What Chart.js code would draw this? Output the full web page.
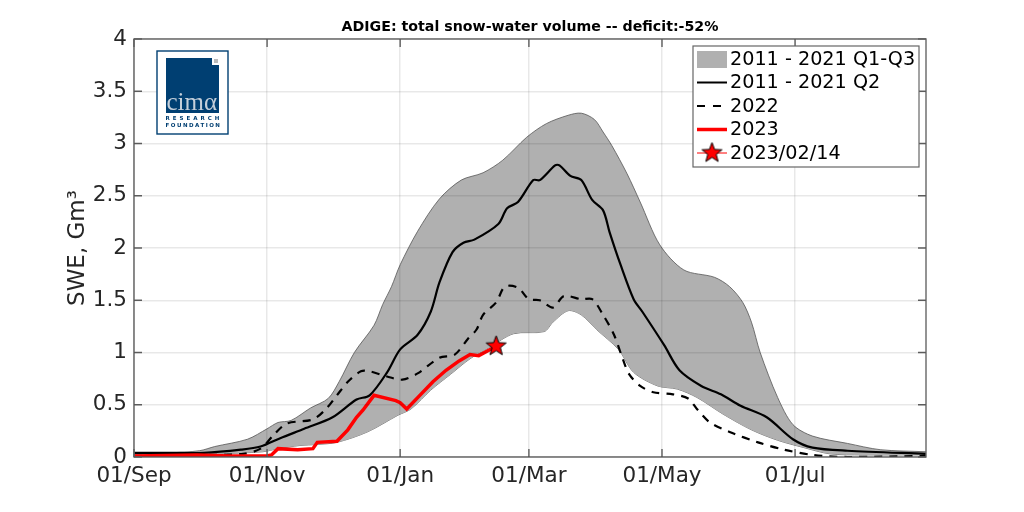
<!DOCTYPE html>
<html>
<head>
<meta charset="utf-8">
<title>ADIGE SWE</title>
<script src="https://cdn.jsdelivr.net/npm/chart.js@4"></script>
<style>
  html, body { margin: 0; padding: 0; background: #fff; }
  canvas { display: block; }
</style>
</head>
<body>
<canvas id="sweChart" width="1024" height="512"></canvas>
<script>
// days counted from 01/Sep, values in Gm3
const tickDays = [0, 61, 122, 181, 242, 303];
const tickNames = ['01/Sep', '01/Nov', '01/Jan', '01/Mar', '01/May', '01/Jul'];

const q3Days = [0, 16, 30, 37, 52, 61, 66, 72, 81, 89, 94, 101, 110, 114, 118, 122, 130, 140, 150, 160, 169, 180, 189, 199, 205, 211, 215, 219, 226, 232, 241, 252, 266, 273, 279, 283, 287, 295, 302, 311, 327, 342, 363];
const q3Values = [.04, .04, .06, .10, .17, .27, .33, .35, .47, .56, .72, 1.0, 1.26, 1.46, 1.63, 1.84, 2.16, 2.47, 2.65, 2.72, 2.84, 3.06, 3.19, 3.27, 3.29, 3.23, 3.11, 2.98, 2.71, 2.44, 2.03, 1.79, 1.72, 1.63, 1.48, 1.29, 1.0, .57, .31, .20, .13, .07, .05];

const q1Days = [0, 37, 59, 66, 76, 84, 93, 107, 121, 127, 136, 145, 154, 163, 174, 188, 192, 199, 205, 212, 222, 229, 240, 249, 258, 270, 283, 295, 307, 319, 334, 363];
const q1Values = [.01, .03, .05, .08, .11, .12, .14, .24, .40, .46, .64, .79, .94, 1.05, 1.18, 1.20, 1.29, 1.40, 1.36, 1.22, 1.03, .81, .68, .65, .57, .41, .26, .16, .09, .03, .02, .02];

const q2Days = [0, 16, 32, 49, 58, 67, 78, 91, 102, 108, 116, 122, 130, 136, 140, 146, 151, 156, 167, 171, 176, 183, 186, 193, 195, 200, 205, 210, 215, 218, 223, 229, 233, 243, 250, 260, 269, 278, 290, 302, 311, 327, 363];
const q2Values = [.04, .04, .04, .07, .10, .18, .27, .38, .55, .59, .81, 1.03, 1.17, 1.39, 1.67, 1.96, 2.05, 2.08, 2.23, 2.38, 2.44, 2.65, 2.65, 2.79, 2.79, 2.69, 2.65, 2.46, 2.36, 2.15, 1.84, 1.51, 1.39, 1.07, .83, .68, .60, .49, .38, .17, .09, .06, .03];

const y2022Days = [0, 30, 50, 58, 64, 70, 82, 88, 93, 98, 104, 108, 116, 123, 130, 140, 147, 153, 157, 160, 166, 170, 176, 181, 186, 192, 197, 205, 210, 215, 220, 224, 227, 232, 238, 247, 254, 258, 264, 273, 286, 298, 311, 327, 363];
const y2022Values = [.01, .02, .03, .08, .21, .32, .36, .46, .59, .72, .82, .82, .77, .74, .80, .95, .98, 1.13, 1.22, 1.36, 1.48, 1.63, 1.62, 1.51, 1.50, 1.43, 1.54, 1.51, 1.51, 1.36, 1.17, .94, .79, .68, .62, .60, .56, .46, .33, .24, .14, .07, .02, 0, .01];

const y2023Days = [0, 29, 44, 61, 63, 66, 75, 82, 84, 93, 98, 102, 105, 110, 120, 122, 125, 131, 137, 143, 149, 154, 158, 166];
const y2023Values = [.01, .02, .01, .01, .02, .08, .07, .08, .14, .15, .26, .38, .45, .59, .54, .52, .46, .59, .72, .83, .92, .98, .97, 1.06];

const markerDays = [166];
const markerValues = [1.06];

const legendNames = ['2011 - 2021 Q1-Q3', '2011 - 2021 Q2', '2022', '2023', '2023/02/14'];

const toPoints = (days, values) => days.map((d, i) => ({ x: d, y: values[i] }));

const FONT = '"DejaVu Sans"';
const BAND = '#b0b0b0';
const FRAME = '#666666';
const TEXT = '#262626';
const NAVY = '#003f72';

// filled five point star, used on the chart and in the legend
function makeStar(r) {
  const size = Math.ceil(r * 2 + 4);
  const c = document.createElement('canvas');
  c.width = size;
  c.height = size;
  const g = c.getContext('2d');
  g.translate(size / 2, size / 2);
  g.beginPath();
  for (let i = 0; i < 10; i++) {
    const rad = i % 2 ? r * 0.42 : r;
    const a = -Math.PI / 2 + i * Math.PI / 5;
    g.lineTo(rad * Math.cos(a), rad * Math.sin(a));
  }
  g.closePath();
  g.fillStyle = '#ff0000';
  g.fill();
  g.lineWidth = 1;
  g.strokeStyle = '#000';
  g.stroke();
  return c;
}
const star = makeStar(10.5);

const framePlugin = {
  id: 'frame',
  afterDatasetsDraw(chart) {
    const { ctx, chartArea: a, scales } = chart;
    ctx.save();
    ctx.strokeStyle = FRAME;
    ctx.lineWidth = 1.4;
    ctx.strokeRect(a.left, a.top, a.right - a.left, a.bottom - a.top);
    ctx.beginPath();
    tickDays.forEach(d => {
      const x = scales.x.getPixelForValue(d);
      ctx.moveTo(x, a.bottom);
      ctx.lineTo(x, a.bottom - 8);
      ctx.moveTo(x, a.top);
      ctx.lineTo(x, a.top + 8);
    });
    scales.y.ticks.forEach(t => {
      const y = scales.y.getPixelForValue(t.value);
      ctx.moveTo(a.left, y);
      ctx.lineTo(a.left + 8, y);
      ctx.moveTo(a.right, y);
      ctx.lineTo(a.right - 8, y);
    });
    ctx.stroke();
    ctx.restore();
  }
};

const titlePlugin = {
  id: 'topTitle',
  afterDraw(chart) {
    const { ctx } = chart;
    ctx.save();
    ctx.font = 'bold 14.2px ' + FONT;
    ctx.fillStyle = '#000';
    ctx.textAlign = 'center';
    ctx.textBaseline = 'alphabetic';
    ctx.fillText('ADIGE: total snow-water volume -- deficit:-52%', 530, 31);
    ctx.restore();
  }
};

const legendPlugin = {
  id: 'boxLegend',
  afterDraw(chart) {
    const { ctx } = chart;
    const rows = [59, 82.5, 106, 129.5, 153];
    ctx.save();
    ctx.fillStyle = '#fff';
    ctx.fillRect(693, 46, 226, 121);
    ctx.strokeStyle = FRAME;
    ctx.lineWidth = 1.2;
    ctx.strokeRect(693, 46, 226, 121);

    ctx.fillStyle = BAND;
    ctx.fillRect(697, 51, 30, 17);

    ctx.strokeStyle = '#000';
    ctx.lineWidth = 2;
    ctx.beginPath();
    ctx.moveTo(697, rows[1]);
    ctx.lineTo(727, rows[1]);
    ctx.stroke();

    ctx.setLineDash([8, 8]);
    ctx.beginPath();
    ctx.moveTo(697, rows[2]);
    ctx.lineTo(727, rows[2]);
    ctx.stroke();
    ctx.setLineDash([]);

    ctx.strokeStyle = '#ff0000';
    ctx.lineWidth = 3.5;
    ctx.beginPath();
    ctx.moveTo(697, rows[3]);
    ctx.lineTo(727, rows[3]);
    ctx.stroke();

    ctx.lineWidth = 1;
    ctx.beginPath();
    ctx.moveTo(697, rows[4]);
    ctx.lineTo(727, rows[4]);
    ctx.stroke();
    ctx.drawImage(star, 712 - star.width / 2, rows[4] - star.height / 2);

    ctx.font = '19.2px ' + FONT;
    ctx.fillStyle = '#000';
    ctx.textBaseline = 'middle';
    legendNames.forEach((name, i) => ctx.fillText(name, 730, rows[i] + 1));
    ctx.restore();
  }
};

const logoPlugin = {
  id: 'logo',
  afterDraw(chart) {
    const { ctx } = chart;
    ctx.save();
    ctx.fillStyle = '#fff';
    ctx.fillRect(157, 51, 71, 83);
    ctx.strokeStyle = NAVY;
    ctx.lineWidth = 1.4;
    ctx.strokeRect(157, 51, 71, 83);
    ctx.fillStyle = NAVY;
    ctx.fillRect(166, 58, 53, 55);
    ctx.fillStyle = '#fff';
    ctx.fillRect(212, 58, 7, 7);
    ctx.fillStyle = '#bbbbbb';
    ctx.fillRect(214, 59, 4, 4);
    ctx.fillStyle = '#c4cfda';
    ctx.font = '25px "Liberation Serif"';
    ctx.textBaseline = 'alphabetic';
    ctx.fillText('cim\u03b1', 166.5, 110);
    ctx.fillStyle = NAVY;
    ctx.font = 'bold 5.5px ' + FONT;
    ctx.letterSpacing = '3px';
    ctx.fillText('RESEARCH', 165.5, 120);
    ctx.letterSpacing = '1.5px';
    ctx.fillText('FOUNDATION', 165.5, 126.5);
    ctx.restore();
  }
};

new Chart(document.getElementById('sweChart'), {
  type: 'line',
  plugins: [framePlugin, titlePlugin, legendPlugin, logoPlugin],
  data: {
    datasets: [
      {
        label: legendNames[4],
        data: toPoints(markerDays, markerValues),
        pointStyle: star,
        pointRadius: 10,
        showLine: false,
        order: 0
      },
      {
        label: legendNames[3],
        data: toPoints(y2023Days, y2023Values),
        borderColor: '#ff0000',
        borderWidth: 3.5,
        pointRadius: 0,
        order: 1
      },
      {
        label: legendNames[2],
        data: toPoints(y2022Days, y2022Values),
        borderColor: '#000',
        borderWidth: 2.2,
        borderDash: [8, 7],
        pointRadius: 0,
        tension: 0.3,
        order: 3
      },
      {
        label: legendNames[1],
        data: toPoints(q2Days, q2Values),
        borderColor: '#000',
        borderWidth: 2.2,
        pointRadius: 0,
        tension: 0.3,
        order: 2
      },
      {
        label: legendNames[0],
        data: toPoints(q3Days, q3Values),
        borderColor: '#555',
        borderWidth: 0.8,
        backgroundColor: BAND,
        pointRadius: 0,
        tension: 0.3,
        fill: '+1',
        order: 5
      },
      {
        label: 'Q1',
        data: toPoints(q1Days, q1Values),
        borderColor: '#555',
        borderWidth: 0.8,
        pointRadius: 0,
        tension: 0.3,
        order: 6
      }
    ]
  },
  options: {
    responsive: false,
    animation: false,
    devicePixelRatio: 1,
    layout: { padding: { top: 39, right: 98, left: 0, bottom: 0 } },
    plugins: {
      legend: { display: false },
      title: { display: false },
      tooltip: { enabled: false }
    },
    scales: {
      x: {
        type: 'linear',
        min: 0,
        max: 363,
        afterBuildTicks(scale) {
          scale.ticks = tickDays.map(d => ({ value: d }));
        },
        afterFit(scale) { scale.height = 55; },
        grid: { color: 'rgba(0,0,0,0.09)', lineWidth: 1.5, drawTicks: false, z: 1 },
        border: { display: false },
        ticks: {
          padding: 7,
          color: TEXT,
          maxRotation: 0,
          autoSkip: false,
          font: { family: 'DejaVu Sans', size: 21.5 },
          callback: v => tickNames[tickDays.indexOf(v)]
        }
      },
      y: {
        min: 0,
        max: 4,
        afterFit(scale) { scale.width = 134; },
        grid: { color: 'rgba(0,0,0,0.09)', lineWidth: 1.5, drawTicks: false, z: 1 },
        border: { display: false },
        title: {
          display: true,
          text: 'SWE, Gm\u00b3',
          color: TEXT,
          font: { family: 'DejaVu Sans', size: 23 },
          padding: { top: 64, bottom: 0 }
        },
        ticks: {
          stepSize: 0.5,
          padding: 7,
          color: TEXT,
          font: { family: 'DejaVu Sans', size: 21.5 },
          callback: v => String(v)
        }
      }
    }
  }
});
</script>
</body>
</html>
